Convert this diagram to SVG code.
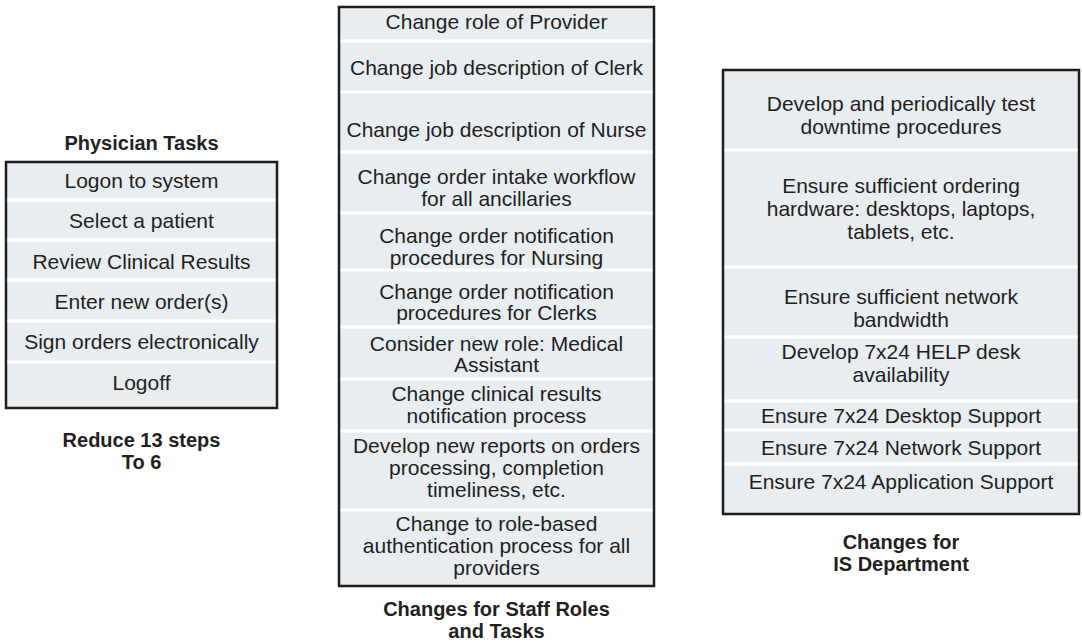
<svg xmlns="http://www.w3.org/2000/svg" width="1082" height="642" viewBox="0 0 1082 642">
<style>
.box{fill:#e8edf2;stroke:#1e1e1e;stroke-width:2.5}
.sep{stroke:#ffffff;stroke-width:3}
.t{font-family:"Liberation Sans",Arial,sans-serif;font-size:21px;fill:#231f20;text-anchor:middle}
.cap{font-family:"Liberation Sans",Arial,sans-serif;font-size:20px;font-weight:bold;fill:#231f20;text-anchor:middle}
</style>
<rect width="1082" height="642" fill="#ffffff"/>
<g id="physician-tasks">
<text class="cap" x="141.5" y="150">Physician Tasks</text>
<rect class="box" x="6" y="162" width="271" height="246"/>
<line class="sep" x1="7.5" y1="200" x2="275.5" y2="200"/>
<line class="sep" x1="7.5" y1="240" x2="275.5" y2="240"/>
<line class="sep" x1="7.5" y1="280" x2="275.5" y2="280"/>
<line class="sep" x1="7.5" y1="321" x2="275.5" y2="321"/>
<line class="sep" x1="7.5" y1="362" x2="275.5" y2="362"/>
<text class="t" x="141.5" y="188">Logon to system</text>
<text class="t" x="141.5" y="228">Select a patient</text>
<text class="t" x="141.5" y="269">Review Clinical Results</text>
<text class="t" x="141.5" y="309">Enter new order(s)</text>
<text class="t" x="141.5" y="349">Sign orders electronically</text>
<text class="t" x="141.5" y="390">Logoff</text>
<text class="cap" x="141.5" y="447">Reduce 13 steps</text>
<text class="cap" x="141.5" y="469">To 6</text>
</g>
<g id="staff-roles">
<rect class="box" x="339" y="7" width="315" height="579"/>
<line class="sep" x1="340.5" y1="41" x2="652.5" y2="41"/>
<line class="sep" x1="340.5" y1="92" x2="652.5" y2="92"/>
<line class="sep" x1="340.5" y1="152" x2="652.5" y2="152"/>
<line class="sep" x1="340.5" y1="213" x2="652.5" y2="213"/>
<line class="sep" x1="340.5" y1="270" x2="652.5" y2="270"/>
<line class="sep" x1="340.5" y1="327" x2="652.5" y2="327"/>
<line class="sep" x1="340.5" y1="379" x2="652.5" y2="379"/>
<line class="sep" x1="340.5" y1="431" x2="652.5" y2="431"/>
<line class="sep" x1="340.5" y1="510" x2="652.5" y2="510"/>
<text class="t" x="496.5" y="29">Change role of Provider</text>
<text class="t" x="496.5" y="75">Change job description of Clerk</text>
<text class="t" x="496.5" y="137">Change job description of Nurse</text>
<text class="t" x="496.5" y="184">Change order intake workflow</text>
<text class="t" x="496.5" y="206">for all ancillaries</text>
<text class="t" x="496.5" y="243">Change order notification</text>
<text class="t" x="496.5" y="265">procedures for Nursing</text>
<text class="t" x="496.5" y="299">Change order notification</text>
<text class="t" x="496.5" y="320">procedures for Clerks</text>
<text class="t" x="496.5" y="351">Consider new role: Medical</text>
<text class="t" x="496.5" y="372">Assistant</text>
<text class="t" x="496.5" y="401">Change clinical results</text>
<text class="t" x="496.5" y="423">notification process</text>
<text class="t" x="496.5" y="453">Develop new reports on orders</text>
<text class="t" x="496.5" y="475">processing, completion</text>
<text class="t" x="496.5" y="497">timeliness, etc.</text>
<text class="t" x="496.5" y="531">Change to role-based</text>
<text class="t" x="496.5" y="553">authentication process for all</text>
<text class="t" x="496.5" y="575">providers</text>
<text class="cap" x="496.5" y="616">Changes for Staff Roles</text>
<text class="cap" x="496.5" y="638">and Tasks</text>
</g>
<g id="is-department">
<rect class="box" x="723" y="70" width="356" height="444"/>
<line class="sep" x1="724.5" y1="150" x2="1077.5" y2="150"/>
<line class="sep" x1="724.5" y1="267" x2="1077.5" y2="267"/>
<line class="sep" x1="724.5" y1="337" x2="1077.5" y2="337"/>
<line class="sep" x1="724.5" y1="401" x2="1077.5" y2="401"/>
<line class="sep" x1="724.5" y1="430" x2="1077.5" y2="430"/>
<line class="sep" x1="724.5" y1="464" x2="1077.5" y2="464"/>
<text class="t" x="901" y="111">Develop and periodically test</text>
<text class="t" x="901" y="134">downtime procedures</text>
<text class="t" x="901" y="193">Ensure sufficient ordering</text>
<text class="t" x="901" y="216">hardware: desktops, laptops,</text>
<text class="t" x="901" y="239">tablets, etc.</text>
<text class="t" x="901" y="304">Ensure sufficient network</text>
<text class="t" x="901" y="327">bandwidth</text>
<text class="t" x="901" y="359">Develop 7x24 HELP desk</text>
<text class="t" x="901" y="382">availability</text>
<text class="t" x="901" y="423">Ensure 7x24 Desktop Support</text>
<text class="t" x="901" y="455">Ensure 7x24 Network Support</text>
<text class="t" x="901" y="489">Ensure 7x24 Application Support</text>
<text class="cap" x="901" y="549">Changes for</text>
<text class="cap" x="901" y="571">IS Department</text>
</g>
<g id="connectors"></g>
</svg>
